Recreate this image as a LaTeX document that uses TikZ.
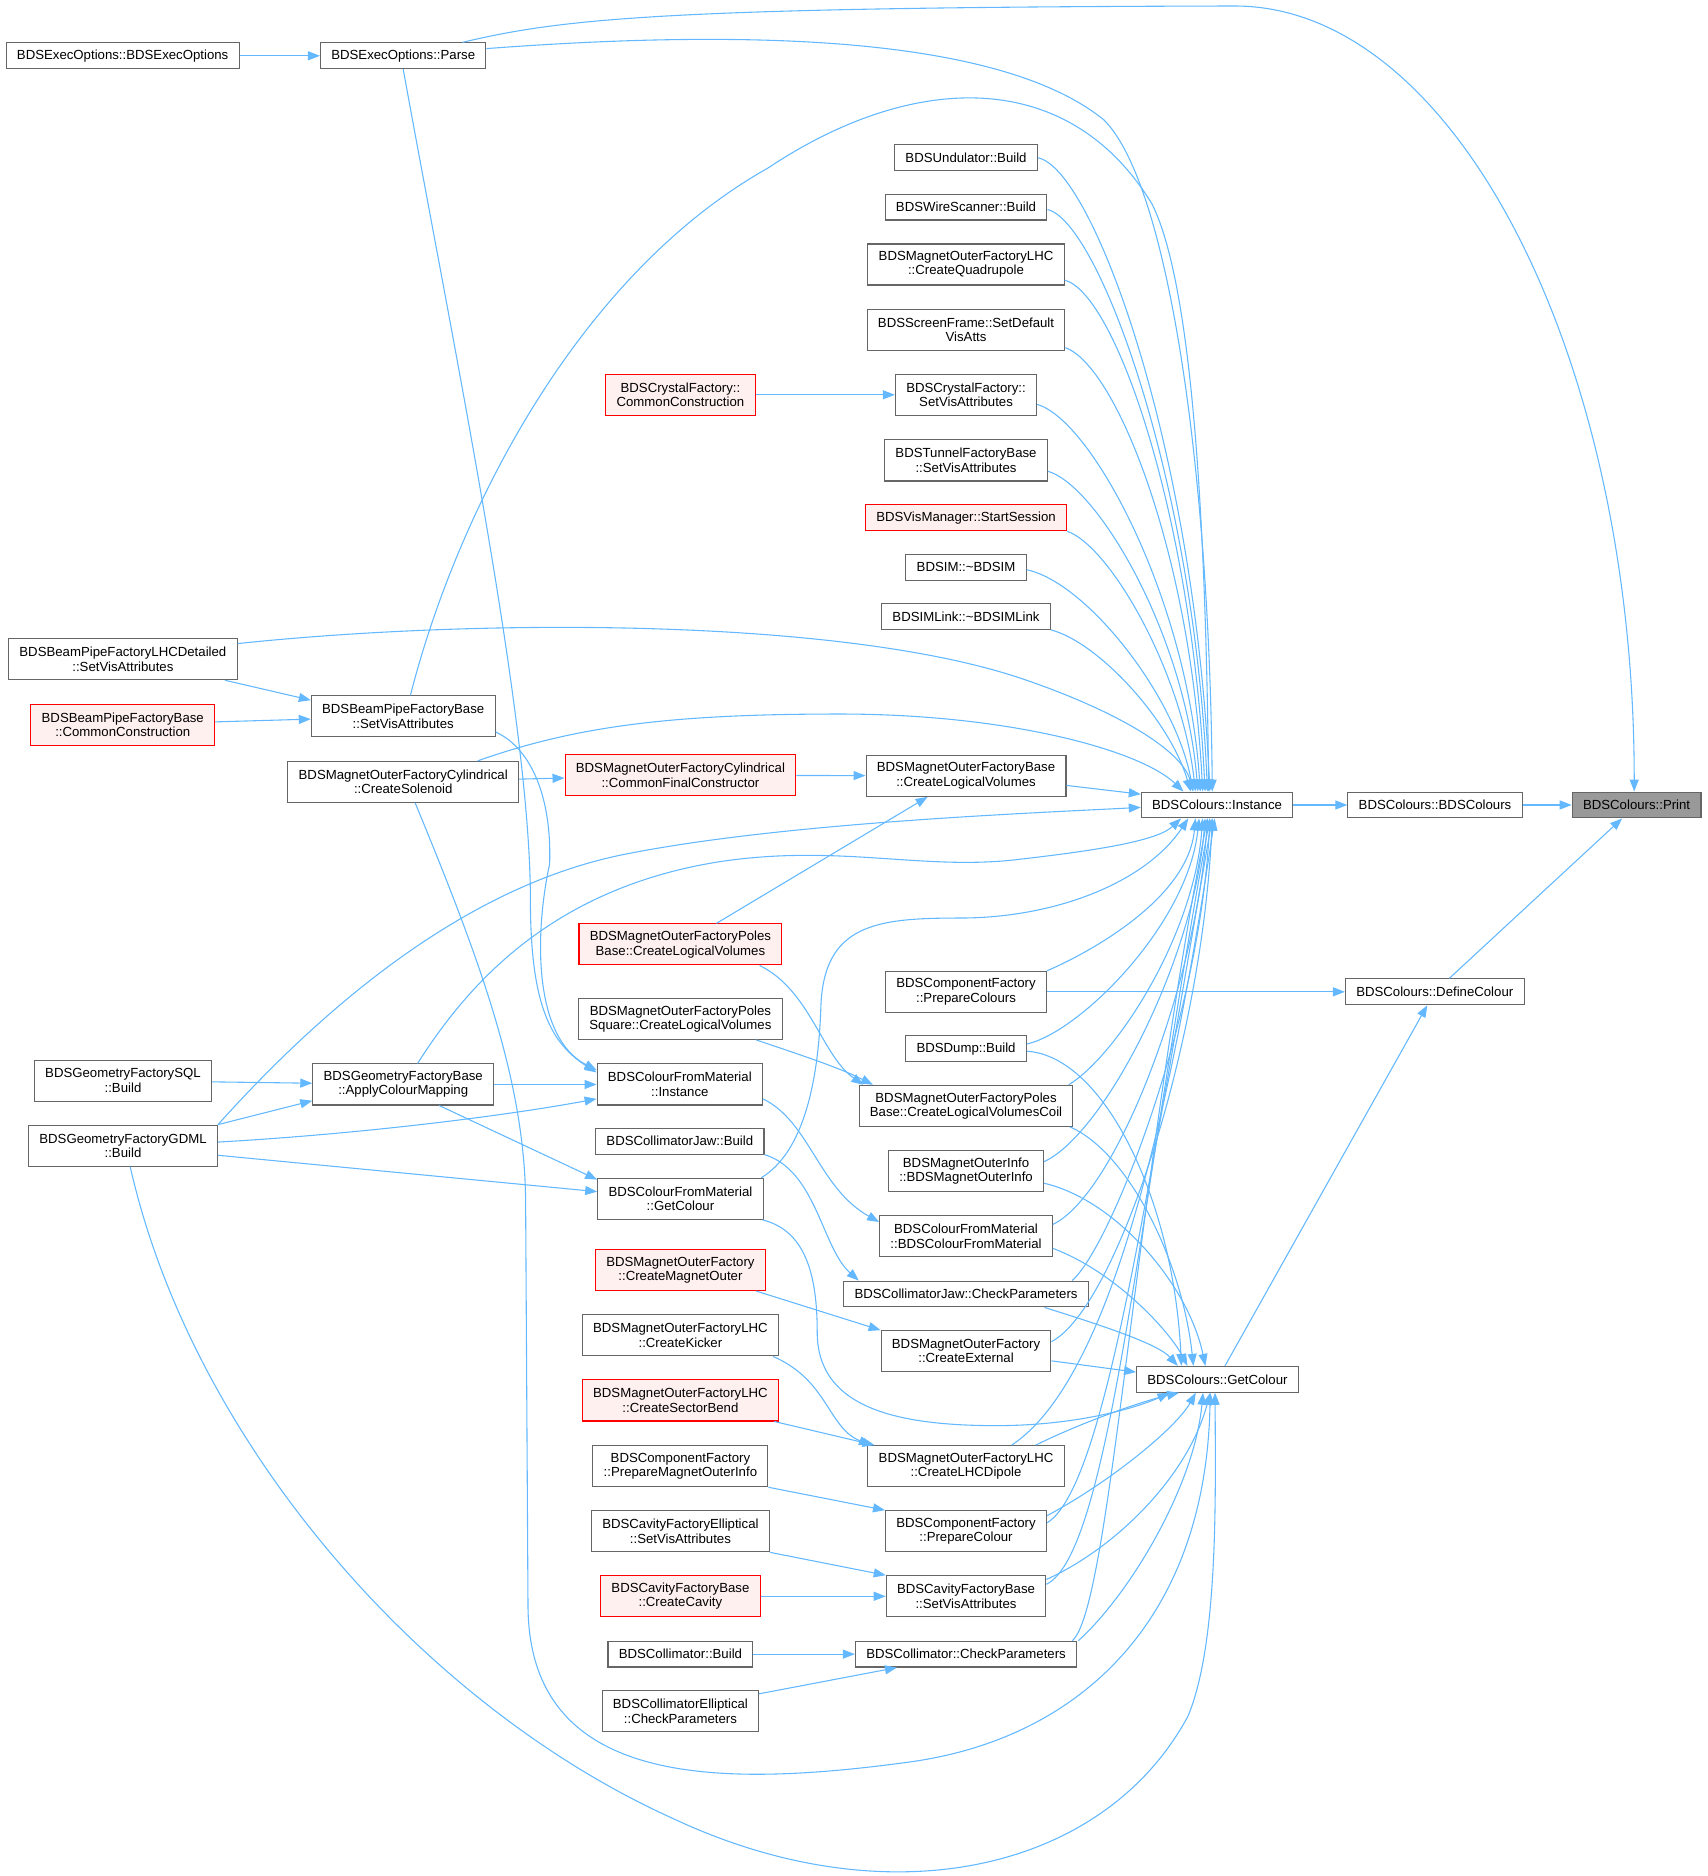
\documentclass[tikz,border=0pt]{standalone}
\usepackage{fontspec}
\setmainfont{Liberation Sans}
\usepackage{tikz}
\usepackage{xcolor}
\usetikzlibrary{
    arrows.meta,
    shapes.misc
}
\definecolor{edgeblue}{HTML}{63B8FF}
\definecolor{boxgray}{HTML}{666666}
\definecolor{redfill}{HTML}{FFF0F0}
\definecolor{rootgray}{HTML}{999999}

\begin{document}
\begin{tikzpicture}[x=1pt, y=-1pt,
    fn/.style={draw=boxgray, line width=0.9pt, fill=white, rectangle, align=center, inner xsep=9pt, inner ysep=1pt, minimum height=21.5pt, font=\fontsize{11}{12}\selectfont},
    fn2/.style={fn, minimum height=34.2pt},
    hot/.style={draw=red, fill=redfill},
    rootfn/.style={fill=rootgray},
    call/.style={->, >={Triangle[length=10pt, width=7.5pt]}, draw=edgeblue, line width=0.9pt}]
                \useasboundingbox (0, 0) rectangle (1422.5, 1563.3);

                \node[fn] (exec ctor) at (102.2, 46.5) {BDSExecOptions::BDSExecOptions};
                \node[fn2] (lhc detailed) at (102.4, 549.3) {BDSBeamPipeFactoryLHCDetailed\\::SetVisAttributes};
                \node[fn2, hot] (bp common) at (102.3, 603.8) {BDSBeamPipeFactoryBase\\::CommonConstruction};
                \node[fn2] (sql build) at (102.5, 900.5) {BDSGeometryFactorySQL\\::Build};
                \node[fn2] (gdml build) at (102.5, 954.7) {BDSGeometryFactoryGDML\\::Build};

                \node[fn] (exec parse) at (336, 46.5) {BDSExecOptions::Parse};
                \node[fn2] (bp base) at (336, 597) {BDSBeamPipeFactoryBase\\::SetVisAttributes};
                \node[fn2] (solenoid) at (336, 651.6) {BDSMagnetOuterFactoryCylindrical\\::CreateSolenoid};
                \node[fn2] (colour mapping) at (336, 903.7) {BDSGeometryFactoryBase\\::ApplyColourMapping};

                \node[fn2, hot] (crystal common) at (567, 329) {BDSCrystalFactory::\\CommonConstruction};
                \node[fn2, hot] (final constructor) at (567, 646) {BDSMagnetOuterFactoryCylindrical\\::CommonFinalConstructor};
                \node[fn2, hot] (poles base) at (567, 787) {BDSMagnetOuterFactoryPoles\\Base::CreateLogicalVolumes};
                \node[fn2] (poles square) at (567, 849) {BDSMagnetOuterFactoryPoles\\Square::CreateLogicalVolumes};
                \node[fn2] (cfm instance) at (566.5, 903.7) {BDSColourFromMaterial\\::Instance};
                \node[fn] (jaw build) at (566.5, 951) {BDSCollimatorJaw::Build};
                \node[fn2] (cfm colour) at (567, 999) {BDSColourFromMaterial\\::GetColour};
                \node[fn2, hot] (magnet outer) at (567, 1058.3) {BDSMagnetOuterFactory\\::CreateMagnetOuter};
                \node[fn2] (kicker) at (567, 1112.8) {BDSMagnetOuterFactoryLHC\\::CreateKicker};
                \node[fn2, hot] (sector bend) at (567, 1167) {BDSMagnetOuterFactoryLHC\\::CreateSectorBend};
                \node[fn2] (outer info prep) at (567, 1221.8) {BDSComponentFactory\\::PrepareMagnetOuterInfo};
                \node[fn2] (cav elliptical) at (567, 1276) {BDSCavityFactoryElliptical\\::SetVisAttributes};
                \node[fn2, hot] (create cavity) at (567, 1330.2) {BDSCavityFactoryBase\\::CreateCavity};
                \node[fn] (coll build) at (567, 1378.4) {BDSCollimator::Build};
                \node[fn2] (coll elliptical) at (567, 1426) {BDSCollimatorElliptical\\::CheckParameters};

                \node[fn] (undulator) at (805, 131.5) {BDSUndulator::Build};
                \node[fn] (wire scanner) at (805, 172.6) {BDSWireScanner::Build};
                \node[fn2] (quadrupole) at (805, 220.4) {BDSMagnetOuterFactoryLHC\\::CreateQuadrupole};
                \node[fn2] (screen frame) at (805, 274.7) {BDSScreenFrame::SetDefault\\VisAtts};
                \node[fn2] (crystal vis) at (805, 329) {BDSCrystalFactory::\\SetVisAttributes};
                \node[fn2] (tunnel vis) at (805, 383.7) {BDSTunnelFactoryBase\\::SetVisAttributes};
                \node[fn, hot] (start session) at (805, 431.5) {BDSVisManager::StartSession};
                \node[fn] (bdsim dtor) at (805, 472.8) {BDSIM::\textasciitilde BDSIM};
                \node[fn] (bdsimlink dtor) at (805, 513.7) {BDSIMLink::\textasciitilde BDSIMLink};
                \node[fn2] (outer base) at (805, 646.5) {BDSMagnetOuterFactoryBase\\::CreateLogicalVolumes};
                \node[fn2] (prepare colours) at (805, 826.5) {BDSComponentFactory\\::PrepareColours};
                \node[fn] (dump build) at (805, 874) {BDSDump::Build};
                \node[fn2] (poles coil) at (805, 921.5) {BDSMagnetOuterFactoryPoles\\Base::CreateLogicalVolumesCoil};
                \node[fn2] (outer info) at (805, 976) {BDSMagnetOuterInfo\\::BDSMagnetOuterInfo};
                \node[fn2] (cfm ctor) at (805, 1030.3) {BDSColourFromMaterial\\::BDSColourFromMaterial};
                \node[fn] (jaw check) at (805, 1078.3) {BDSCollimatorJaw::CheckParameters};
                \node[fn2] (create external) at (805, 1126) {BDSMagnetOuterFactory\\::CreateExternal};
                \node[fn2] (lhc dipole) at (805, 1221.8) {BDSMagnetOuterFactoryLHC\\::CreateLHCDipole};
                \node[fn2] (prepare colour) at (805, 1276) {BDSComponentFactory\\::PrepareColour};
                \node[fn2] (cav base) at (805, 1330.2) {BDSCavityFactoryBase\\::SetVisAttributes};
                \node[fn] (coll check) at (805, 1378.4) {BDSCollimator::CheckParameters};

                \node[fn] (instance) at (1014.2, 670.8) {BDSColours::Instance};
                \node[fn] (get colour) at (1014.5, 1149.4) {BDSColours::GetColour};
                \node[fn] (bds colours) at (1195.8, 670.8) {BDSColours::BDSColours};
                \node[fn] (define colour) at (1195.6, 826.5) {BDSColours::DefineColour};
                \node[fn, rootfn] (print) at (1363.8, 670.8) {BDSColours::Print};

                \draw[call] (bds colours)--(print);
                \draw[call] (instance)--(bds colours);
                \draw[call] (define colour)--(print);
                \draw[call] (get colour)--(define colour);
                \draw[call] (prepare colours)--(define colour);
                \draw[call] ([xshift=-20pt]exec parse.north east) .. controls (470, 15) and (560, 6) .. (1029, 5) .. controls (1213, 5) and (1362, 298) .. ([xshift=-2pt]print.north);

                \draw[call] (exec ctor)--(exec parse);
                \draw[call] (lhc detailed.south) ++(85pt, 0) -- ([yshift=-4pt]bp base.north west);
                \draw[call] (bp common)--(bp base);
                \draw[call] (sql build)--(colour mapping);
                \draw[call] (gdml build.north east)--([yshift=4pt]colour mapping.south west);
                \draw[call] (colour mapping)--(cfm instance);
                \draw[call] ([yshift=3pt]gdml build.east) .. controls (300, 945) and (420, 930) .. ([yshift=-12pt]cfm instance.west);
                \draw[call] ([yshift=-8pt]gdml build.east)--([yshift=6pt]cfm colour.west);
                \draw[call] ([xshift=30pt]colour mapping.south)--([yshift=16pt]cfm colour.west);
                \draw[call] (exec parse.south) .. controls (380, 300) and (442, 600) .. (442, 750) .. controls (442, 840) and (460, 870) .. ([yshift=10pt]cfm instance.west);
                \draw[call] ([yshift=-13pt]bp base.east) .. controls (440, 622) and (460, 660) .. (458, 720) .. controls (445, 780) and (445, 865) .. ([yshift=12pt]cfm instance.west);
                \draw[call] (solenoid)--(final constructor);
                \draw[call] (final constructor)--(outer base);
                \draw[call] (crystal common)--(crystal vis);

                \draw[call] ([xshift=30pt]poles base.north)--([xshift=-32pt]outer base.south);
                \draw[call] ([xshift=66pt]poles base.south) .. controls (675, 825) and (685, 880) .. ([xshift=4pt]poles coil.north west);
                \draw[call] ([xshift=63pt]poles square.south) .. controls (670, 880) and (700, 890) .. ([xshift=12pt]poles coil.north west);
                \draw[call] ([yshift=-12pt]cfm instance.east) .. controls (675, 935) and (682, 990) .. ([yshift=12pt]cfm ctor.west);
                \draw[call] (jaw build.south east) .. controls (680, 975) and (685, 1040) .. ([xshift=13pt]jaw check.north west);
                \draw[call] ([xshift=-8pt]magnet outer.south east)--(create external.north west);
                \draw[call] ([xshift=-5pt]kicker.south east) .. controls (690, 1150) and (690, 1190) .. ([xshift=3pt]lhc dipole.north west);
                \draw[call] ([xshift=-4pt]sector bend.south east)--([xshift=6pt]lhc dipole.north west);
                \draw[call] (outer info prep.south east)--(prepare colour.north west);
                \draw[call] (cav elliptical.south east)--(cav base.north west);
                \draw[call] (create cavity)--(cav base);
                \draw[call] (coll build)--(coll check);
                \draw[call] ([yshift=-3pt]coll elliptical.north east)--([xshift=35pt]coll check.south west);

                \draw[call] ([yshift=6pt]exec parse.east) .. controls (650, 22) and (840, 35) .. (920, 100) .. controls (975, 155) and (1008, 400) .. ([xshift=-4pt]instance.north);
                \draw[call] ([xshift=6pt]bp base.north) .. controls (380, 430) and (480, 230) .. (640, 140) .. controls (760, 60) and (890, 55) .. (960, 170) .. controls (995, 240) and (1005, 450) .. ([xshift=-7pt]instance.north);
                \draw[call] ([yshift=13pt]lhc detailed.east) .. controls (400, 515) and (700, 515) .. (850, 565) .. controls (930, 592) and (985, 625) .. ([xshift=-20pt]instance.north);
                \draw[call] ([xshift=62pt]solenoid.north) .. controls (480, 605) and (560, 595) .. (700, 595) .. controls (840, 595) and (950, 625) .. ([xshift=-28pt]instance.north);
                \draw[call] ([yshift=-8pt]outer base.east)--([yshift=9pt]instance.west);
                \draw[call] (gdml build.north east) .. controls (260, 850) and (380, 740) .. (520, 712) .. controls (650, 686) and (850, 678) .. ([yshift=-2pt]instance.west);
                \draw[call] ([xshift=12pt]colour mapping.north) .. controls (390, 820) and (460, 740) .. (600, 718) .. controls (700, 703) and (770, 726) .. (850, 716) .. controls (920, 708) and (965, 700) .. ([xshift=-30pt]instance.south);
                \draw[call] ([xshift=-2pt]cfm colour.north east) .. controls (670, 960) and (682, 900) .. (684, 840) .. controls (686, 770) and (730, 765) .. (800, 765) .. controls (880, 765) and (955, 735) .. ([xshift=-24pt]instance.south);

                \draw[call] (undulator.east) .. controls (910, 140) and (995, 370) .. ([xshift=-6pt]instance.north);
                \draw[call] ([yshift=-2pt]wire scanner.east) .. controls (915, 184) and (995, 400) .. ([xshift=-8pt]instance.north);
                \draw[call] ([yshift=-13pt]quadrupole.east) .. controls (930, 245) and (993, 430) .. ([xshift=-10pt]instance.north);
                \draw[call] ([yshift=-15pt]screen frame.east) .. controls (930, 305) and (992, 460) .. ([xshift=-12pt]instance.north);
                \draw[call] ([yshift=-8pt]crystal vis.east) .. controls (910, 350) and (990, 500) .. ([xshift=-14pt]instance.north);
                \draw[call] ([yshift=-9pt]tunnel vis.east) .. controls (915, 405) and (988, 530) .. ([xshift=-16pt]instance.north);
                \draw[call] (start session.south east) .. controls (925, 455) and (985, 560) .. ([xshift=-18pt]instance.north);
                \draw[call] ([yshift=-2pt]bdsim dtor.east) .. controls (905, 485) and (980, 580) .. ([xshift=-20pt]instance.north);
                \draw[call] (bdsimlink dtor.south east) .. controls (915, 535) and (975, 600) .. ([xshift=-22pt]instance.north);

                \draw[call] (prepare colours.north east) .. controls (905, 795) and (990, 750) .. ([xshift=-18pt]instance.south);
                \draw[call] ([yshift=4pt]dump build.east) .. controls (900, 860) and (990, 770) .. ([xshift=-15pt]instance.south);
                \draw[call] ([xshift=-4pt]poles coil.north east) .. controls (930, 880) and (995, 780) .. ([xshift=-12pt]instance.south);
                \draw[call] ([yshift=8pt]outer info.east) .. controls (920, 945) and (995, 800) .. ([xshift=-10pt]instance.south);
                \draw[call] ([yshift=10pt]cfm ctor.east) .. controls (930, 995) and (997, 820) .. ([xshift=-8pt]instance.south);
                \draw[call] ([xshift=-14pt]jaw check.north east) .. controls (925, 1040) and (1000, 850) .. ([xshift=-6pt]instance.south);
                \draw[call] ([yshift=8pt]create external.east) .. controls (930, 1090) and (1002, 870) .. ([xshift=-4pt]instance.south);
                \draw[call] ([xshift=38pt]lhc dipole.north) .. controls (910, 1160) and (965, 1000) .. ([xshift=-2pt]instance.south);
                \draw[call] ([yshift=7pt]prepare colour.east) .. controls (920, 1240) and (955, 1000) .. ([xshift=-4pt]instance.south);
                \draw[call] ([yshift=10pt]cav base.east) .. controls (925, 1295) and (950, 1000) .. ([xshift=-6pt]instance.south);
                \draw[call] ([xshift=-4pt]coll check.north east) .. controls (925, 1340) and (945, 1000) .. ([xshift=-8pt]instance.south);

                \draw[call] ([yshift=-2pt]dump build.east) .. controls (920, 880) and (978, 1000) .. ([xshift=-30pt]get colour.north);
                \draw[call] ([xshift=-3pt]poles coil.south east) .. controls (940, 960) and (985, 1050) .. ([xshift=-20pt]get colour.north);
                \draw[call] ([yshift=-10pt]outer info.east) .. controls (930, 1000) and (990, 1070) .. ([xshift=-10pt]get colour.north);
                \draw[call] ([yshift=-10pt]cfm ctor.east) .. controls (930, 1060) and (975, 1110) .. ([xshift=-25pt]get colour.north);
                \draw[call] ([xshift=-37pt]jaw check.south east) .. controls (920, 1105) and (965, 1120) .. ([xshift=-33pt]get colour.north);
                \draw[call] ([yshift=-8pt]create external.east)--([yshift=6pt]get colour.west);
                \draw[call] ([xshift=-1pt]cfm colour.south east) .. controls (670, 1025) and (681, 1060) .. (681, 1110) .. controls (681, 1170) and (740, 1188) .. (830, 1188) .. controls (900, 1188) and (950, 1172) .. ([xshift=-40pt]get colour.south);
                \draw[call] ([xshift=58pt]lhc dipole.north) .. controls (900, 1186) and (950, 1168) .. ([xshift=-32pt]get colour.south);
                \draw[call] ([yshift=13pt]prepare colour.east) .. controls (925, 1235) and (980, 1190) .. ([xshift=-18pt]get colour.south);
                \draw[call] ([yshift=14pt]cav base.east) .. controls (930, 1290) and (990, 1230) .. ([xshift=-6pt]get colour.south);
                \draw[call] ([xshift=1pt]coll check.north east) .. controls (940, 1330) and (995, 1240) .. ([xshift=-12pt]get colour.south);
                \draw[call] ([xshift=10pt]solenoid.south) .. controls (400, 800) and (437, 900) .. (438, 1000) -- (440, 1340) .. controls (442, 1490) and (600, 1490) .. (760, 1468) .. controls (900, 1448) and (1005, 1350) .. ([xshift=-6pt]get colour.south);
                \draw[call] ([xshift=6pt]gdml build.south) .. controls (160, 1200) and (350, 1420) .. (560, 1515) .. controls (740, 1600) and (920, 1560) .. (990, 1430) .. controls (1015, 1370) and (1013, 1250) .. ([xshift=-2pt]get colour.south);
            \end{tikzpicture}
\end{document}
